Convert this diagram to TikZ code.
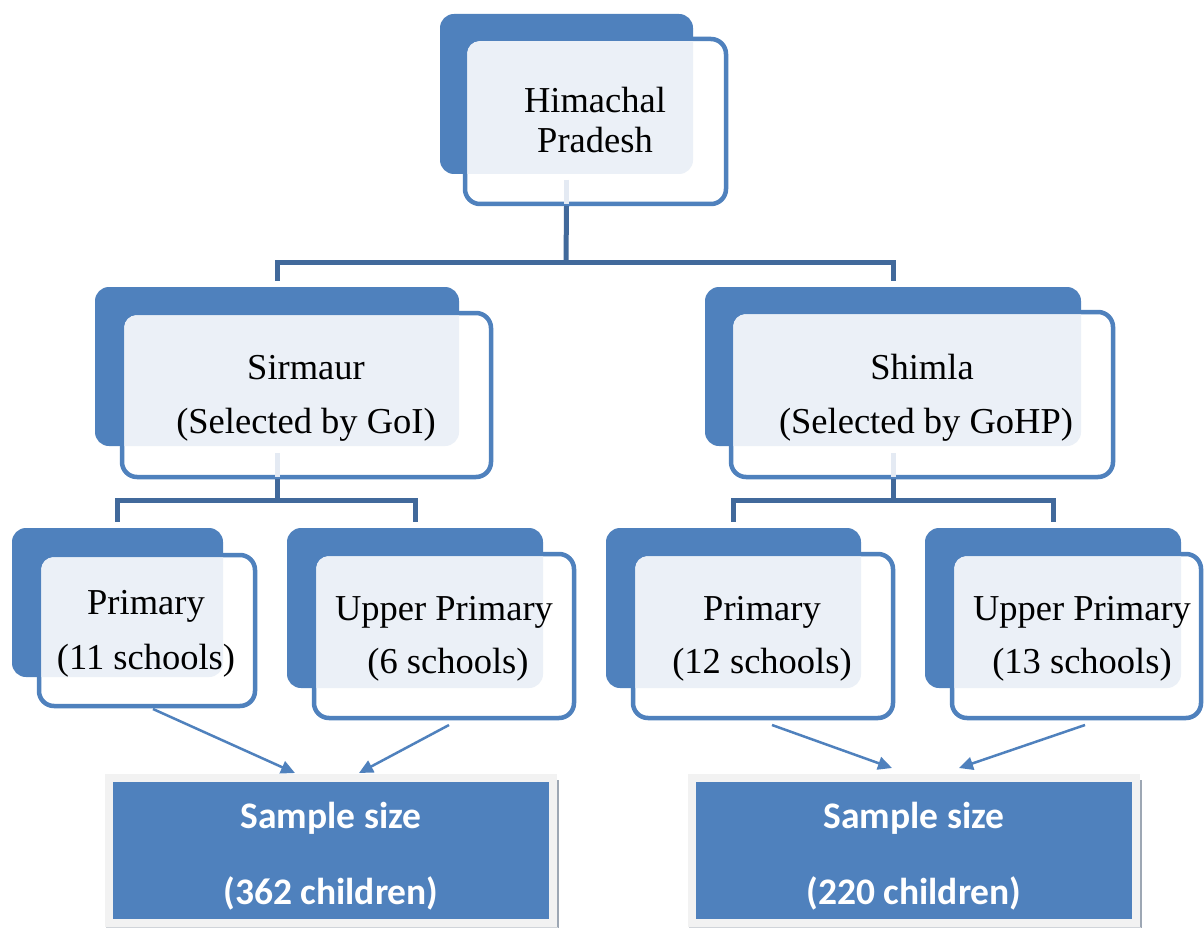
\documentclass[tikz,border=0pt]{standalone}
\usepackage{fontspec}
\setmainfont{Liberation Serif}
\newfontfamily\sampfont{Carlito}
\usetikzlibrary{fit,arrows.meta,calc}
\definecolor{boxblue}{HTML}{4F81BD}
\definecolor{lightfill}{HTML}{EBF0F7}
\definecolor{connblue}{HTML}{41699B}
\definecolor{palegray}{HTML}{F2F2F2}
\definecolor{shadowgray}{HTML}{9DA7B4}
\definecolor{paleline}{HTML}{E4EAF3}
\tikzset{
 backbox/.style={fill=boxblue, rounded corners=14pt, inner sep=0pt, outer sep=0pt},
 frontbox/.style={draw=boxblue, fill=white, line width=4.5pt, rounded corners=15pt, inner sep=0pt, outer sep=0pt},
 txt/.style={font=\fontsize{36.5}{40}\selectfont, inner sep=0pt, anchor=base, text=black},
 stxt/.style={font=\sampfont\bfseries\fontsize{37.5}{40}\selectfont, inner sep=0pt, anchor=base, text=white},
 conn/.style={draw=connblue, line width=5pt},
 paleseg/.style={draw=paleline, line width=5pt},
 arr/.style={draw=boxblue, line width=2.5pt, -{Triangle[length=14pt,width=13pt]}},
 samplebox/.style={fill=boxblue, draw=palegray, line width=8pt, inner sep=0pt, outer sep=0pt},
 shadowline/.style={draw=shadowgray, line width=1.5pt},
}
\newcommand\dualbox[9]{%
 \node[backbox, fit={(#2,#3)(#4,#5)}] (#1b) {};
 \node[frontbox, fit={(#6,#7)(#8,#9)}] (#1f) {};
 \begin{scope}
  \clip[rounded corners=14pt] (#2,#3) rectangle (#4,#5);
  \fill[lightfill, rounded corners=12pt] ({#6+2.25},{#7+2.25}) rectangle ({#8-2.25},{#9-2.25});
 \end{scope}}
\begin{document}
\begin{tikzpicture}[x=1pt,y=-1pt]
\useasboundingbox[fill=white] (0,0) rectangle (1204,928);

% boxes
\dualbox{hp}{440}{14}{693}{174}{465}{39}{726}{204}
\dualbox{sir}{95}{287}{459}{446}{122}{313}{491}{477}
\dualbox{shi}{705}{287}{1081}{446}{731}{312}{1113}{477}
\dualbox{pa}{12}{528}{223}{677}{39}{555}{255}{706}
\dualbox{ua}{287}{528}{543}{688}{314}{554}{574}{718}
\dualbox{pb}{606}{528}{861}{688}{633}{554}{893}{718}
\dualbox{ub}{925}{528}{1181}{688}{952}{554}{1201}{718}

% pale segments seen through the front boxes
\draw[paleseg] ($(hpb.south)+(0pt,-6pt)$) -- (hpb.south |- hpf.south);
\draw[paleseg] ($(sirb.south)+(0pt,-7pt)$) -- (sirb.south |- sirf.south);
\draw[paleseg] ($(shib.south)+(0pt,-7pt)$) -- (shib.south |- shif.south);

% connectors
\coordinate (j1) at (566,262);
\coordinate (j2) at (277,500);
\coordinate (j3) at (893,500);
\draw[conn] ([yshift=-2pt]hpb.south |- hpf.south) -- (j1);
\draw[conn, shorten >=6pt] (j1) -| (sirb.north);
\draw[conn, shorten >=6pt] (j1) -| (shib.north);
\draw[conn] ([yshift=-2pt]sirb.south |- sirf.south) -- (j2);
\draw[conn, shorten >=6pt] (j2) -| (pab.north);
\draw[conn, shorten >=6pt] (j2) -| (uab.north);
\draw[conn] ([yshift=-2pt]shib.south |- shif.south) -- (j3);
\draw[conn, shorten >=6pt] (j3) -| (pbb.north);
\draw[conn, shorten >=6pt] (j3) -| (ubb.north);

% sample boxes
\node[samplebox, fit={(109,778)(553,923)}] (s1) {};
\node[samplebox, fit={(692,778)(1136,923)}] (s2) {};
\draw[shadowline] ([xshift=5pt,yshift=-2pt]s1.north east) -- ([xshift=5pt,yshift=-5pt]s1.south east);
\draw[shadowline, draw=palegray!60!shadowgray] ([xshift=-3pt,yshift=-4.5pt]s1.south west) -- ([xshift=5pt,yshift=-4.5pt]s1.south east);
\draw[shadowline] ([xshift=5pt,yshift=-2pt]s2.north east) -- ([xshift=5pt,yshift=-5pt]s2.south east);
\draw[shadowline, draw=palegray!60!shadowgray] ([xshift=-3pt,yshift=-4.5pt]s2.south west) -- ([xshift=5pt,yshift=-4.5pt]s2.south east);

% arrows
\coordinate (a1) at (153,709);
\coordinate (t1) at (295,773);
\coordinate (a2) at (449,725);
\coordinate (t2) at (359,773);
\coordinate (a3) at (772,725);
\coordinate (t3) at (892,768);
\coordinate (a4) at (1085,725);
\coordinate (t4) at (959,768);
\draw[arr] (a1) -- (t1);
\draw[arr] (a2) -- (t2);
\draw[arr] (a3) -- (t3);
\draw[arr] (a4) -- (t4);

% texts
\node[txt] (hpt1) at (595,113) {Himachal};
\node[txt] (hpt2) at (595,153) {Pradesh};
\node[txt] (sirt1) at (306,379) {Sirmaur};
\node[txt] (sirt2) at (306,433) {(Selected by GoI)};
\node[txt] (shit1) at (922,379) {Shimla};
\node[txt] (shit2) at (926,433) {(Selected by GoHP)};
\node[txt] (pat1) at (146,614) {Primary};
\node[txt] (pat2) at (146,669) {(11 schools)};
\node[txt] (uat1) at (444,620) {Upper Primary};
\node[txt] (uat2) at (448,673) {(6 schools)};
\node[txt] (pbt1) at (762,620) {Primary};
\node[txt] (pbt2) at (762,673) {(12 schools)};
\node[txt] (ubt1) at (1082,620) {Upper Primary};
\node[txt] (ubt2) at (1082,673) {(13 schools)};
\node[stxt] (s1t1) at (331,828) {Sample size};
\node[stxt] (s1t2) at (331,904) {(362 children)};
\node[stxt] (s2t1) at (914,828) {Sample size};
\node[stxt] (s2t2) at (914,904) {(220 children)};
\end{tikzpicture}
\end{document}
